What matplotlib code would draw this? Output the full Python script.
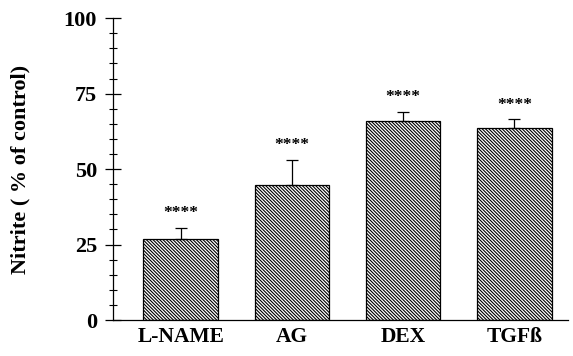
import matplotlib
matplotlib.use('Agg')
import matplotlib.pyplot as plt
from matplotlib.ticker import MultipleLocator

# data
groups = ['L-NAME', 'AG', 'DEX', 'TGF\u00df']
nitrite = [26.7, 44.8, 65.8, 63.5]
sem = [3.9, 8.2, 3.2, 3.0]
stars = ['****', '****', '****', '****']

plt.rcParams['font.family'] = ['Liberation Serif', 'DejaVu Serif']
plt.rcParams['font.weight'] = 'bold'
plt.rcParams['hatch.linewidth'] = 0.8
plt.rcParams['hatch.color'] = '#505050'

fig = plt.figure(figsize=(5.73, 3.56), dpi=100)
ax = fig.add_axes([0.197, 0.101, 0.794, 0.848])

x = list(range(len(groups)))
ax.bar(x, nitrite, width=0.67, color='white', edgecolor='black',
       linewidth=0.9, hatch='\\' * 10)
ax.errorbar(x, nitrite, yerr=[[0] * len(sem), sem], fmt='none',
            ecolor='black', elinewidth=0.9, capsize=4, capthick=0.9)
for xi, v, e, s in zip(x, nitrite, sem, stars):
    ax.text(xi, v + e + 2.2, s, ha='center', va='bottom', fontsize=12.5,
            fontweight='bold')

ax.set_xlim(-0.61, 3.48)
ax.set_ylim(0, 100)
ax.set_xticks(x)
ax.set_xticklabels(groups, fontsize=15.5, fontweight='bold')
ax.tick_params(axis='x', length=0, pad=5)
ax.yaxis.set_major_locator(MultipleLocator(25))
ax.yaxis.set_minor_locator(MultipleLocator(5))
ax.tick_params(axis='y', which='major', direction='inout', length=11,
               width=0.9, labelsize=16, pad=6)
ax.tick_params(axis='y', which='minor', direction='inout', length=6,
               width=0.8)
for lab in ax.get_yticklabels():
    lab.set_fontweight('bold')
ax.spines['top'].set_visible(False)
ax.spines['right'].set_visible(False)
ax.spines['left'].set_linewidth(0.9)
ax.spines['bottom'].set_linewidth(0.9)
ax.set_ylabel('Nitrite ( % of control)', fontsize=16, fontweight='bold',
              labelpad=24)

fig.savefig('out.png', dpi=100)
